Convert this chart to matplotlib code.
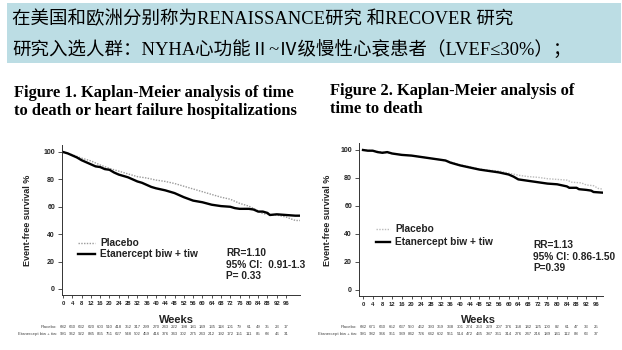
import matplotlib
matplotlib.use("Agg")
import matplotlib.pyplot as plt
from matplotlib.patches import Rectangle
from matplotlib.transforms import Bbox, TransformedBbox, blended_transform_factory

W, H = 622, 350

header_lines = ["在美国和欧洲分别称为RENAISSANCE研究 和RECOVER 研究",
                "研究入选人群：NYHA心功能Ⅱ~Ⅳ级慢性心衰患者（LVEF≤30%）；"]
titles = ["Figure 1. Kaplan-Meier analysis of time\nto death or heart failure hospitalizations",
          "Figure 2. Kaplan-Meier analysis of\ntime to death"]

week_ticks = list(range(0, 97, 4))
y_ticks = [0, 20, 40, 60, 80, 100]

# Figure 1 curves
f1_eta_w = [0, 2, 4, 6, 8, 10, 12, 14, 16, 18, 20, 22, 24, 26, 28, 30, 32, 34, 36, 38, 40, 44,
            48, 52, 56, 60, 64, 68, 72, 74, 76, 80, 82, 84, 86, 88, 89, 92, 96, 100, 102]
f1_eta_s = [100, 99, 97.5, 96, 94, 92.5, 91, 89.5, 89, 87.5, 87, 85, 83.5, 82.5, 81.5, 80, 78.5,
            77.5, 76, 74.5, 73.5, 72, 70, 67, 64.5, 63.3, 61.5, 60.5, 60, 59, 58.5, 58.5, 58, 56.5,
            56.5, 55.5, 54, 54.5, 54, 53.5, 53.5]
f1_pla_w = [0, 4, 8, 12, 16, 20, 24, 28, 32, 36, 40, 44, 48, 52, 56, 60, 64, 68, 72, 76, 80, 84,
            86, 88, 92, 96, 100, 102]
f1_pla_s = [100, 98, 95.5, 93.5, 90.5, 88, 86, 84, 82, 81, 79.5, 78.5, 77, 75, 73, 71, 69, 67,
            65.5, 62.5, 60.5, 57, 55, 54.5, 54, 52.5, 50, 50]

# Figure 2 curves
f2_eta_w = [0, 2, 4, 6, 8, 10, 12, 16, 20, 24, 28, 32, 34, 36, 38, 40, 44, 48, 52, 56, 60, 62,
            64, 68, 72, 76, 80, 84, 85, 88, 89, 92, 94, 95, 99]
f2_eta_s = [100, 99.5, 99.5, 98.5, 98, 98.5, 97.5, 96.5, 96, 95, 94, 93, 92.5, 91, 90, 89, 87.5,
            86, 85, 84, 82.5, 81, 79, 78, 77, 76, 75.5, 74, 73, 73, 72, 71.5, 71, 70, 69.5]
f2_pla_w = [0, 4, 8, 12, 16, 20, 24, 28, 32, 36, 40, 44, 48, 52, 56, 60, 64, 68, 72, 76, 80, 84,
            86, 90, 92, 95, 97, 99]
f2_pla_s = [100, 99.5, 98.5, 97.5, 96.5, 96, 95, 94, 93, 91.5, 89.5, 88, 86.5, 85.5, 85, 83.5,
            82, 81, 80.5, 79.5, 79, 78.5, 77, 76.5, 75, 74.5, 72.5, 72]

f1_pla_risk = [682, 660, 632, 620, 603, 510, 418, 352, 317, 299, 270, 243, 222, 198, 181, 149,
               135, 118, 101, 79, 61, 49, 35, 23, 17]
f1_eta_risk = [991, 962, 922, 885, 855, 751, 627, 548, 502, 459, 416, 376, 343, 302, 275, 243,
               212, 192, 172, 151, 111, 85, 68, 46, 31]
f2_pla_risk = [682, 671, 660, 652, 637, 550, 462, 393, 359, 338, 301, 274, 253, 229, 207, 176,
               158, 142, 125, 100, 82, 61, 47, 33, 25]
f2_eta_risk = [991, 982, 966, 951, 939, 842, 726, 642, 602, 561, 514, 472, 435, 387, 361, 314,
               276, 247, 216, 189, 141, 112, 88, 63, 37]

stats = [["RR=1.10", "95% CI:  0.91-1.33", "P= 0.33"],
         ["RR=1.13", "95% CI: 0.86-1.50", "P=0.39"]]

fig = plt.figure(figsize=(W / 100, H / 100), dpi=100)
fig.patch.set_facecolor("white")


def fx(x):
    return x / W


def fy(y):
    return 1 - y / H


# header band
fig.patches.append(Rectangle((fx(7), fy(63)), fx(614), 60 / H, transform=fig.transFigure,
                             facecolor="#bcdde4", edgecolor="none"))
hfont = ["Liberation Serif", "Noto Sans CJK SC", "DejaVu Sans"]
fig.text(fx(12), fy(19), header_lines[0], family=hfont, fontsize=13.3, va="center")
fig.text(fx(12), fy(50), header_lines[1], family=hfont, fontsize=13.3, va="center")

fig.text(fx(14), fy(102), titles[0], family="Liberation Serif", weight="bold", fontsize=11.9,
         va="center", linespacing=1.2)
fig.text(fx(330), fy(100), titles[1], family="Liberation Serif", weight="bold", fontsize=11.9,
         va="center", linespacing=1.2)

panels = [
    dict(box=(62, 300, 145, 295), xlim=(-0.43, 102), ylim=(-4.4, 105.1),
         eta=(f1_eta_w, f1_eta_s), pla=(f1_pla_w, f1_pla_s), risk=(f1_pla_risk, f1_eta_risk),
         ylab_x=28, leg=(78, 95, 243, 254), stat=(226, 253), weeks_x=176, lab_r=57,
         pla_col="#9a9a9a", clip=305),
    dict(box=(359, 603, 143, 296), xlim=(-1.65, 98.9), ylim=(-4.3, 105),
         eta=(f2_eta_w, f2_eta_s), pla=(f2_pla_w, f2_pla_s), risk=(f2_pla_risk, f2_eta_risk),
         ylab_x=328, leg=(376, 390, 229, 242), stat=(533, 245), weeks_x=478, lab_r=357,
         pla_col="#bbbbbb", clip=W),
]

sans = "Liberation Sans"
for i, p in enumerate(panels):
    l, r, t, b = p["box"]
    ax = fig.add_axes([fx(l), fy(b), fx(r - l), (b - t) / H])
    ax.plot(*p["pla"], color=p["pla_col"], lw=1.0, ls=(0, (1, 1)))
    ax.plot(*p["eta"], color="black", lw=1.7)
    ax.set_xlim(*p["xlim"])
    ax.set_ylim(*p["ylim"])
    ax.set_xticks(week_ticks)
    ax.set_yticks(y_ticks)
    ax.tick_params(axis="x", labelsize=4.2, length=2.5, width=0.6, pad=2, color="#333333")
    ax.tick_params(axis="y", labelsize=5, length=3, width=0.6, pad=2, color="#333333")
    for lab in ax.get_xticklabels() + ax.get_yticklabels():
        lab.set_fontfamily(sans)
        lab.set_fontweight("bold")
        lab.set_color("#222222")
    for s in ["top", "right"]:
        ax.spines[s].set_visible(False)
    for s in ["left", "bottom"]:
        ax.spines[s].set_linewidth(0.7)
        ax.spines[s].set_color("#333333")
    ax.set_facecolor("none")

    fig.text(fx(p["ylab_x"]), fy(220), "Event-free survival %", rotation=90, family=sans,
             weight="bold", fontsize=6.5, ha="center", va="center", color="#222222")
    fig.text(fx(p["weeks_x"]), fy(320), "Weeks", family=sans, weight="bold", fontsize=8,
             ha="center", va="center", color="#222222")

    # legend
    x0, x1, ya, yb = p["leg"]
    fig.lines.append(plt.Line2D([fx(x0), fx(x1)], [fy(ya), fy(ya)], transform=fig.transFigure,
                                color=p["pla_col"], lw=1.0, ls=(0, (1, 1))))
    fig.lines.append(plt.Line2D([fx(x0), fx(x1)], [fy(yb), fy(yb)], transform=fig.transFigure,
                                color="black", lw=1.7))
    fig.text(fx(x1 + 5), fy(ya), "Placebo", family=sans, weight="bold", fontsize=7.3,
             va="center", color="#222222")
    fig.text(fx(x1 + 5), fy(yb), "Etanercept biw + tiw", family=sans, weight="bold",
             fontsize=7.3, va="center", color="#222222")

    # stats
    sx, sy = p["stat"]
    clipbox = TransformedBbox(Bbox([[0, 0], [fx(p["clip"]), 1]]), fig.transFigure)
    for k, s in enumerate(stats[i]):
        tt = fig.text(fx(sx), fy(sy + k * 11.5), s, family=sans, weight="bold", fontsize=7.3,
                      va="center", color="#222222")
        tt.set_clip_box(clipbox)
        tt.set_clip_on(True)

    # numbers at risk
    tr = blended_transform_factory(ax.transData, fig.transFigure)
    pr, er = p["risk"]
    for wk, n in zip(week_ticks, pr):
        ax.text(wk, fy(327), str(n), transform=tr, fontsize=3.1, family=sans, ha="center",
                va="center", color="#444444", clip_on=False)
    for wk, n in zip(week_ticks, er):
        ax.text(wk, fy(334), str(n), transform=tr, fontsize=3.1, family=sans, ha="center",
                va="center", color="#444444", clip_on=False)
    fig.text(fx(p["lab_r"]), fy(327), "Placebo:", fontsize=3.1, family=sans, ha="right",
             va="center", color="#444444")
    fig.text(fx(p["lab_r"]), fy(334), "Etanercept biw + tiw:", fontsize=3.1, family=sans,
             ha="right", va="center", color="#444444")

fig.savefig("out.png", dpi=100)
